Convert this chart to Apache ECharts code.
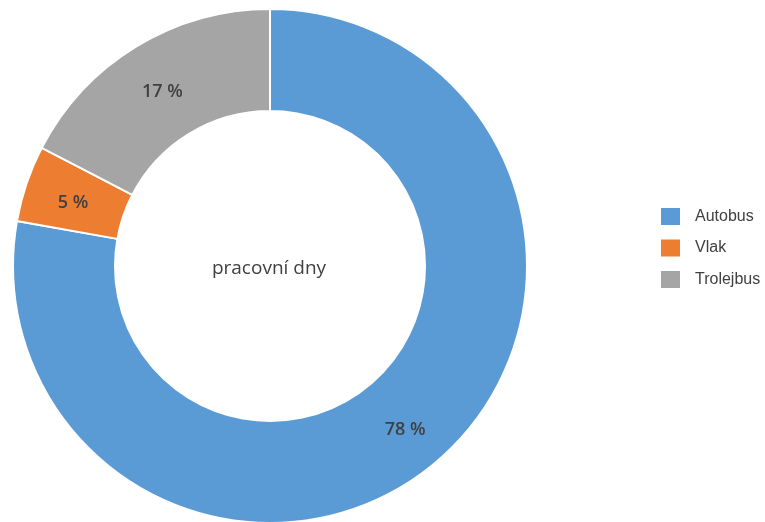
<!DOCTYPE html>
<html>
<head>
<meta charset="utf-8">
<script src="https://cdn.jsdelivr.net/npm/echarts@6/dist/echarts.min.js"></script>
<style>html,body{margin:0;padding:0;background:#fff;}#c{width:765px;height:522px;}</style>
</head>
<body>
<div id="c"></div>
<script>
const categories = ['Autobus', 'Vlak', 'Trolejbus'];
const values = [77.8, 4.8, 17.4];
const colors = ['#5B9BD5', '#ED7D31', '#A5A5A5'];
const centerText = 'pracovní dny';

const chart = echarts.init(document.getElementById('c'), null, {renderer: 'canvas'});
chart.setOption({
  animation: false,
  color: colors,
  legend: {
    orient: 'vertical',
    left: 661,
    top: 208,
    padding: 0,
    itemWidth: 19,
    itemHeight: 17,
    itemGap: 14.5,
    icon: 'rect',
    itemStyle: {borderWidth: 0},
    data: categories,
    textStyle: {fontFamily: 'Liberation Sans', fontSize: 16, color: '#404040', padding: [0, 0, 0, 10]}
  },
  graphic: [{
    type: 'text',
    x: 269, y: 269,
    style: {text: centerText, fontFamily: 'Open Sans', fontSize: 19, fill: '#404040', align: 'center', verticalAlign: 'middle'}
  }],
  series: [{
    type: 'pie',
    center: [270, 266],
    radius: [155, 257],
    startAngle: 90,
    clockwise: true,
    avoidLabelOverlap: false,
    itemStyle: {borderColor: '#fff', borderWidth: 2},
    label: {
      show: true, position: 'inside',
      formatter: p => Math.round(p.value) + ' %',
      offset: [1, 4],
      fontFamily: 'Open Sans', fontSize: 18, fontWeight: 600, color: '#404040'
    },
    labelLine: {show: false},
    emphasis: {disabled: true},
    data: categories.map((n, i) => ({name: n, value: values[i]}))
  }]
});
</script>
</body>
</html>
